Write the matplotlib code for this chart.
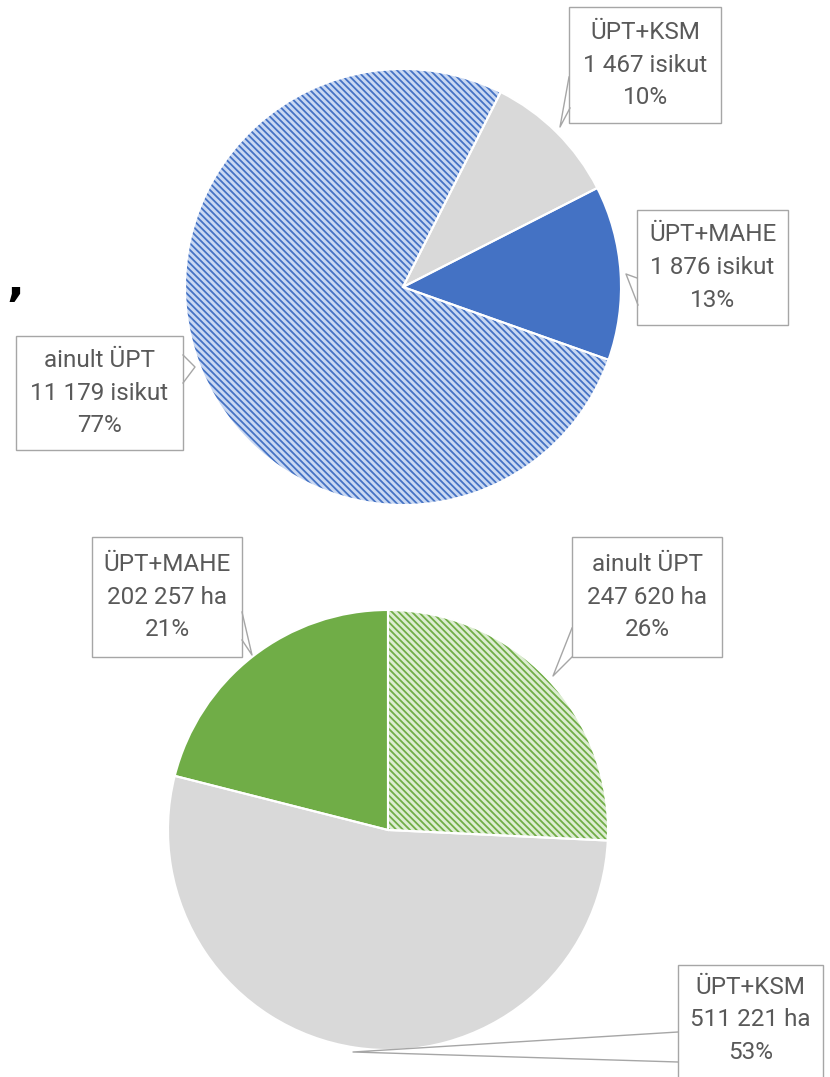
import matplotlib.pyplot as plt
from matplotlib.patches import Rectangle

plt.rcParams["font.family"] = ["Roboto", "DejaVu Sans"]
plt.rcParams["hatch.linewidth"] = 1.3

# ── Data ────────────────────────────────────────────
persons_labels = ["ainult ÜPT", "ÜPT+KSM", "ÜPT+MAHE"]
persons_values = [11179, 1467, 1876]
persons_unit = "isikut"

area_labels = ["ainult ÜPT", "ÜPT+KSM", "ÜPT+MAHE"]
area_values = [247620, 511221, 202257]
area_unit = "ha"

# ── Style ───────────────────────────────────────────
W, H = 830, 1077
BLUE = "#4472C4"
GREEN = "#70AD47"
GREY = "#D9D9D9"
EDGE = "#A6A6A6"
TEXT = "#595959"


def py(y):
    # pixel row (from top) -> data y
    return H - y


def fmt(v):
    return f"{v:,}".replace(",", " ")


def label_texts(labels, values, unit):
    total = sum(values)
    return [
        f"{lab}\n{fmt(v)} {unit}\n{round(100 * v / total)}%"
        for lab, v in zip(labels, values)
    ]


def draw_pie(ax, values, center, radius, start, colors, hatches, hatch_colors):
    wedges, _ = ax.pie(
        values,
        center=(center[0], py(center[1])),
        radius=radius,
        startangle=start,
        counterclock=False,
        colors=colors,
        wedgeprops=dict(linewidth=0),
    )
    for w, h, hc in zip(wedges, hatches, hatch_colors):
        if h:
            w.set_hatch(h)
            w.set_edgecolor(hc)
    # white separators between slices
    ax.pie(
        values,
        center=(center[0], py(center[1])),
        radius=radius,
        startangle=start,
        counterclock=False,
        wedgeprops=dict(fill=False, edgecolor="white", linewidth=1.5),
    )


def callout(ax, box, text, pointer, text_y=None):
    x0, y0, x1, y1 = box
    ax.add_patch(
        Rectangle((x0, py(y1)), x1 - x0, y1 - y0, facecolor="white",
                  edgecolor=EDGE, linewidth=1, zorder=5)
    )
    ty = (y0 + y1) / 2 if text_y is None else text_y
    ax.text((x0 + x1) / 2, py(ty), text, ha="center", va="center",
            fontsize=17.5, color=TEXT, linespacing=1.55, zorder=6)
    xs = [p[0] for p in pointer]
    ys = [py(p[1]) for p in pointer]
    ax.plot(xs, ys, color=EDGE, linewidth=1, zorder=6)


fig = plt.figure(figsize=(8.3, 10.77), dpi=100)
ax = fig.add_axes([0, 0, 1, 1])

# ── Top pie: persons ────────────────────────────────
draw_pie(ax, persons_values, (403, 287), 218, -19.5,
         ["#C9D8F2", GREY, BLUE], ["\\" * 5, None, None], [BLUE, None, None])
p_txt = label_texts(persons_labels, persons_values, persons_unit)
callout(ax, (16, 336, 183, 450), p_txt[0], [(183, 355), (195, 367), (183, 383)])
callout(ax, (569, 7, 721, 123), p_txt[1], [(569, 77), (560, 127), (570, 108)])
callout(ax, (637, 210, 788, 325), p_txt[2], [(637, 278), (626, 274), (638, 305)])

# ── Bottom pie: area ────────────────────────────────
draw_pie(ax, area_values, (388, 830), 220, 90,
         ["#DDEDD2", GREY, GREEN], ["\\" * 5, None, None], [GREEN, None, None])
a_txt = label_texts(area_labels, area_values, area_unit)
callout(ax, (572, 537, 722, 657), a_txt[0], [(572, 628), (553, 676), (572, 657)])
callout(ax, (678, 965, 823, 1095), a_txt[1], [(678, 1032), (353, 1052), (678, 1062)],
        text_y=1020)
callout(ax, (92, 537, 242, 657), a_txt[2], [(242, 612), (252, 655), (242, 640)])

# stray mark at the left edge
ax.text(6, py(283), ",", fontsize=34, fontweight="bold", color="black",
        family="DejaVu Sans", ha="left", va="center")

ax.set_xlim(0, W)
ax.set_ylim(0, H)
ax.set_aspect("equal")
ax.axis("off")

plt.savefig("out.png", dpi=100)
